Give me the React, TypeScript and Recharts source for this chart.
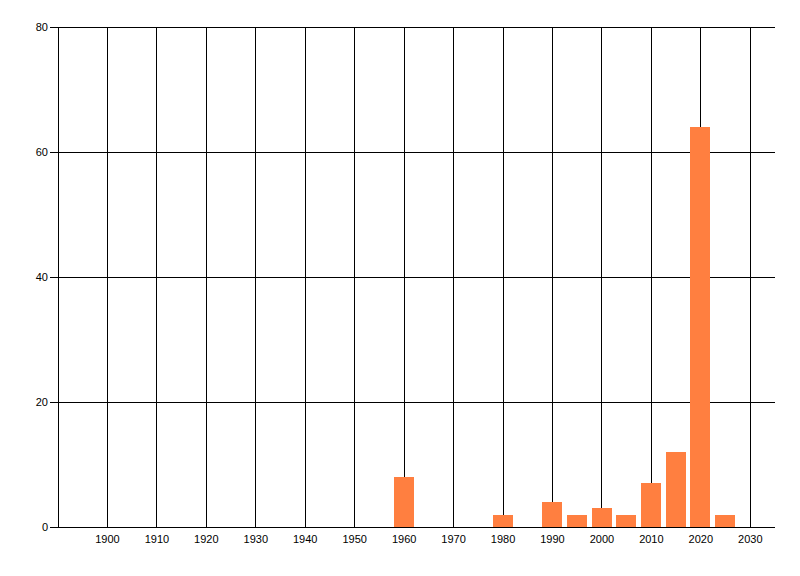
import React from 'react';
import { BarChart, Bar, XAxis, YAxis, CartesianGrid } from 'recharts';

const years = [1960, 1980, 1990, 1995, 2000, 2005, 2010, 2015, 2020, 2025];
const counts = [8, 2, 4, 2, 3, 2, 7, 12, 64, 2];
const xTicks = [1900, 1910, 1920, 1930, 1940, 1950, 1960, 1970, 1980, 1990, 2000, 2010, 2020, 2030];
const yTicks = [0, 20, 40, 60, 80];
const xDomain = [1890, 2035];

const data = years.map((year, i) => ({ year, count: counts[i] }));

const tickStyle = { fill: '#000', fontSize: 11, fontFamily: 'Liberation Sans, Arial, sans-serif' };

// vertical grid only at the labelled years (no line on the right edge)
const verticalLines = ({ xAxis, offset }: any) =>
  xTicks.map(t => {
    const s = xAxis && xAxis.scale;
    if (typeof s === 'function') return s(t);
    if (s && typeof s.map === 'function') return s.map(t);
    return offset.left + ((t - xDomain[0]) / (xDomain[1] - xDomain[0])) * offset.width;
  });

export default function App() {
  return (
    <div style={{ position: 'absolute', left: 0, top: 0, background: '#fff', shapeRendering: 'crispEdges' }}>
      <BarChart width={800} height={576} data={data} margin={{ top: 27, right: 25, bottom: 18, left: 0 }}>
        <CartesianGrid stroke="#000" strokeOpacity={1} verticalCoordinatesGenerator={verticalLines} />
        <XAxis
          dataKey="year"
          type="number"
          domain={xDomain}
          ticks={xTicks}
          allowDataOverflow
          tickLine={false}
          axisLine={{ stroke: '#000' }}
          tick={tickStyle}
          tickSize={6}
          tickMargin={2}
          height={31}
        />
        <YAxis
          type="number"
          domain={[0, 80]}
          ticks={yTicks}
          width={58}
          tickLine={{ stroke: '#000' }}
          axisLine={{ stroke: '#000' }}
          tick={tickStyle}
          tickSize={8}
          tickMargin={2}
        />
        <Bar dataKey="count" fill="#FF7F40" barSize={20} isAnimationActive={false} />
      </BarChart>
    </div>
  );
}
